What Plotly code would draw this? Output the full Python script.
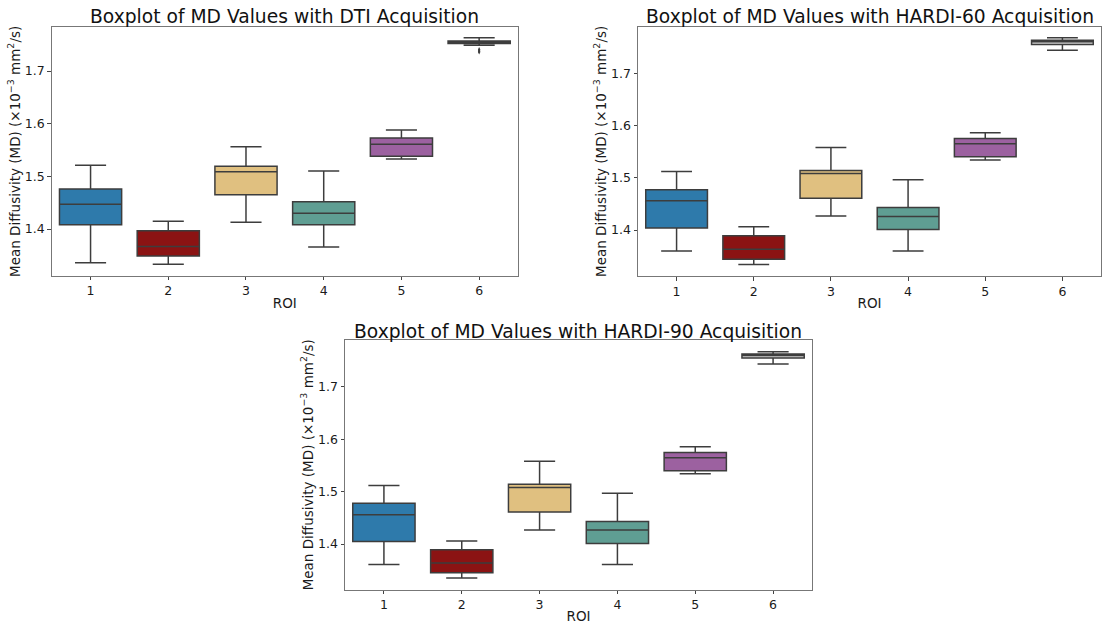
import plotly.graph_objects as go

# ROI categories and box colours
rois = ["1", "2", "3", "4", "5", "6"]
roi_colors = ["#2e7aab", "#8b1313", "#e0c080", "#5f9e93", "#9c61a0", "#d3d3d3"]

# DTI acquisition: box statistics per ROI (x10^-3 mm^2/s)
dti_low = [1.336, 1.333, 1.413, 1.366, 1.533, 1.749]
dti_q1 = [1.408, 1.349, 1.465, 1.408, 1.538, 1.752]
dti_median = [1.447, 1.367, 1.509, 1.430, 1.561, 1.755]
dti_q3 = [1.476, 1.397, 1.519, 1.452, 1.573, 1.757]
dti_high = [1.521, 1.415, 1.556, 1.510, 1.588, 1.763]
dti_outliers = [1.741, 1.738, 1.736]

# HARDI-60 acquisition
h60_low = [1.360, 1.334, 1.427, 1.360, 1.534, 1.744]
h60_q1 = [1.404, 1.344, 1.461, 1.401, 1.540, 1.755]
h60_median = [1.456, 1.363, 1.508, 1.426, 1.565, 1.760]
h60_q3 = [1.477, 1.389, 1.514, 1.443, 1.575, 1.763]
h60_high = [1.512, 1.406, 1.558, 1.496, 1.586, 1.768]

# HARDI-90 acquisition
h90_low = [1.361, 1.335, 1.427, 1.361, 1.534, 1.744]
h90_q1 = [1.405, 1.345, 1.461, 1.401, 1.540, 1.755]
h90_median = [1.456, 1.364, 1.508, 1.427, 1.565, 1.760]
h90_q3 = [1.478, 1.389, 1.514, 1.443, 1.575, 1.763]
h90_high = [1.512, 1.406, 1.558, 1.497, 1.586, 1.767]

titles = [
    "Boxplot of MD Values with DTI Acquisition",
    "Boxplot of MD Values with HARDI-60 Acquisition",
    "Boxplot of MD Values with HARDI-90 Acquisition",
]

W, H = 1102, 624
# axes frames in pixels: (left, right, top, bottom)
frames = [(51.7, 518, 27, 275.7), (638, 1101, 26.7, 276), (345, 812, 340, 589.5)]
yranges = [[1.3115, 1.7835], [1.312, 1.789], [1.3132, 1.7896]]
title_shift = [-2, -2, -4]

EDGE = "#3d3d3d"
FRAME = "#777777"
FONT = "DejaVu Sans"

panels = [
    (dti_low, dti_q1, dti_median, dti_q3, dti_high),
    (h60_low, h60_q1, h60_median, h60_q3, h60_high),
    (h90_low, h90_q1, h90_median, h90_q3, h90_high),
]

fig = go.Figure()
for p, (low, q1, med, q3, high) in enumerate(panels):
    sfx = "" if p == 0 else str(p + 1)
    for i, roi in enumerate(rois):
        fig.add_trace(go.Box(
            x=[roi], q1=[q1[i]], median=[med[i]], q3=[q3[i]],
            lowerfence=[low[i]], upperfence=[high[i]],
            fillcolor=roi_colors[i], line=dict(color=EDGE, width=1.5),
            width=0.8, whiskerwidth=0.5, boxpoints=False,
            showlegend=False, hoverinfo="skip",
            xaxis="x" + sfx, yaxis="y" + sfx,
        ))

# outliers of ROI 6 in the DTI panel
fig.add_trace(go.Scatter(
    x=["6"] * len(dti_outliers), y=dti_outliers, mode="markers",
    marker=dict(symbol="diamond-tall", size=3.5, color=EDGE),
    showlegend=False, hoverinfo="skip", xaxis="x", yaxis="y",
))

ylabel = "Mean Diffusivity (MD) (×10<sup>−3</sup> mm<sup>2</sup>/s)"
layout = dict(
    width=W, height=H, margin=dict(l=0, r=0, t=0, b=0),
    paper_bgcolor="white", plot_bgcolor="white",
    boxmode="overlay",
    font=dict(family=FONT, color="#1a1a1a", size=12.5),
    annotations=[],
)
for p, (l, r, t, b) in enumerate(frames):
    sfx = "" if p == 0 else str(p + 1)
    xd = [l / W, r / W]
    yd = [1 - b / H, 1 - t / H]
    common = dict(showline=True, linecolor=FRAME, linewidth=1, mirror=True,
                  showgrid=False, zeroline=False, ticks="outside", ticklen=3.5,
                  tickwidth=1, tickcolor="#444", tickfont=dict(size=12.5, family=FONT))
    layout["xaxis" + sfx] = dict(
        domain=xd, anchor="y" + sfx, type="category", range=[-0.5, 5.5],
        categoryorder="array", categoryarray=rois,
        title=dict(text="ROI", font=dict(size=13.5, family=FONT), standoff=1),
        **common)
    layout["yaxis" + sfx] = dict(
        domain=yd, anchor="x" + sfx, range=yranges[p],
        tickvals=[1.4, 1.5, 1.6, 1.7], ticktext=["1.4", "1.5", "1.6", "1.7"],
        title=dict(text=ylabel, font=dict(size=13.5, family=FONT), standoff=1),
        **common)
    layout["annotations"].append(dict(
        text=titles[p], xref="paper", yref="paper",
        x=(xd[0] + xd[1]) / 2, y=yd[1], xanchor="center", yanchor="bottom",
        yshift=title_shift[p], showarrow=False,
        font=dict(size=18.7, family=FONT, color="#111"),
    ))

fig.update_layout(**layout)
fig.write_html("out.html")
